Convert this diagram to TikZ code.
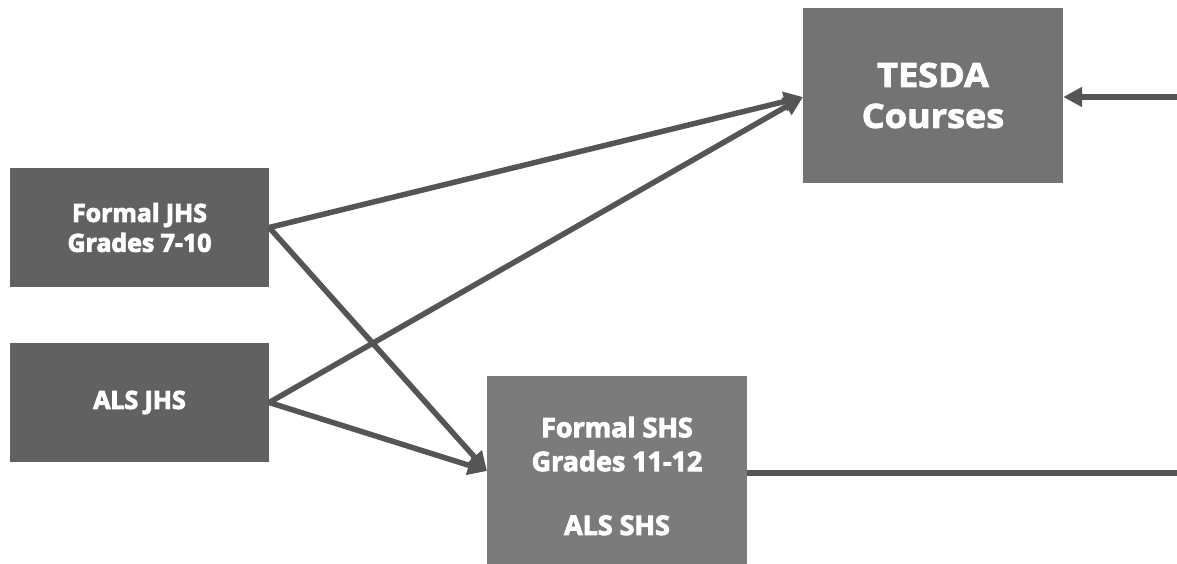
\documentclass[tikz,border=0pt]{standalone}
\usepackage{fontspec}
\setmainfont{Open Sans}
\newfontfamily\widefont{Open Sans}[BoldFeatures={FakeStretch=1.08}]
\newcommand{\heavyon}{\special{pdf:literal direct 2 Tr 0.9 w}}
\newcommand{\heavyoff}{\special{pdf:literal direct 0 Tr}}
\usetikzlibrary{arrows.meta}
\definecolor{boxdark}{HTML}{616161}
\definecolor{boxmid}{HTML}{737373}
\definecolor{boxlight}{HTML}{7B7B7B}
\definecolor{linecol}{HTML}{555555}
\tikzset{
  box/.style={rectangle, draw=none, text=white, align=center, inner sep=0pt, font=\bfseries},
  conn/.style={draw=linecol, line width=5.5bp, -{Triangle[length=19bp,width=19bp]}},
  plainconn/.style={draw=linecol, line width=5.5bp},
}
\begin{document}
\begin{tikzpicture}[x=1bp,y=-1bp]
\useasboundingbox[fill=white] (0,0) rectangle (1177,564);
\node[box, fill=boxdark, minimum width=259bp, minimum height=119bp, font=\bfseries\fontsize{25}{30}\selectfont] (jhs) at (139.5,227.5) {\heavyon Formal JHS\\\heavyon Grades 7-10\heavyoff};
\node[box, fill=boxdark, minimum width=259bp, minimum height=119bp, font=\bfseries\fontsize{25}{30}\selectfont] (als) at (139.5,402.5) {\heavyon ALS JHS\heavyoff};
\node[box, fill=boxmid, minimum width=260bp, minimum height=175bp, font=\widefont\bfseries\fontsize{33.5}{41}\selectfont] (tesda) at (933,95.5) {\heavyon TESDA\\\heavyon Courses\heavyoff};
\node[box, fill=boxlight, minimum width=260bp, minimum height=200bp, font=\bfseries\fontsize{27}{34}\selectfont] (shs) at (617,476) {\heavyon Formal SHS\\\heavyon Grades 11-12\\[30bp]\heavyon ALS SHS\heavyoff};
\coordinate (tesin) at (803,97);
\coordinate (shsin) at (487,471);
\coordinate (rin) at (1177,97);
\coordinate (rout) at (1177,473);
\draw[conn] (jhs.east) -- (tesin);
\draw[conn] (als.east) -- (tesin);
\draw[conn] (jhs.east) -- (shsin);
\draw[conn] (als.east) -- (shsin);
\draw[conn] (rin) -- (tesda.east |- rin);
\draw[plainconn] (shs.east |- rout) -- (rout);
\end{tikzpicture}
\end{document}
